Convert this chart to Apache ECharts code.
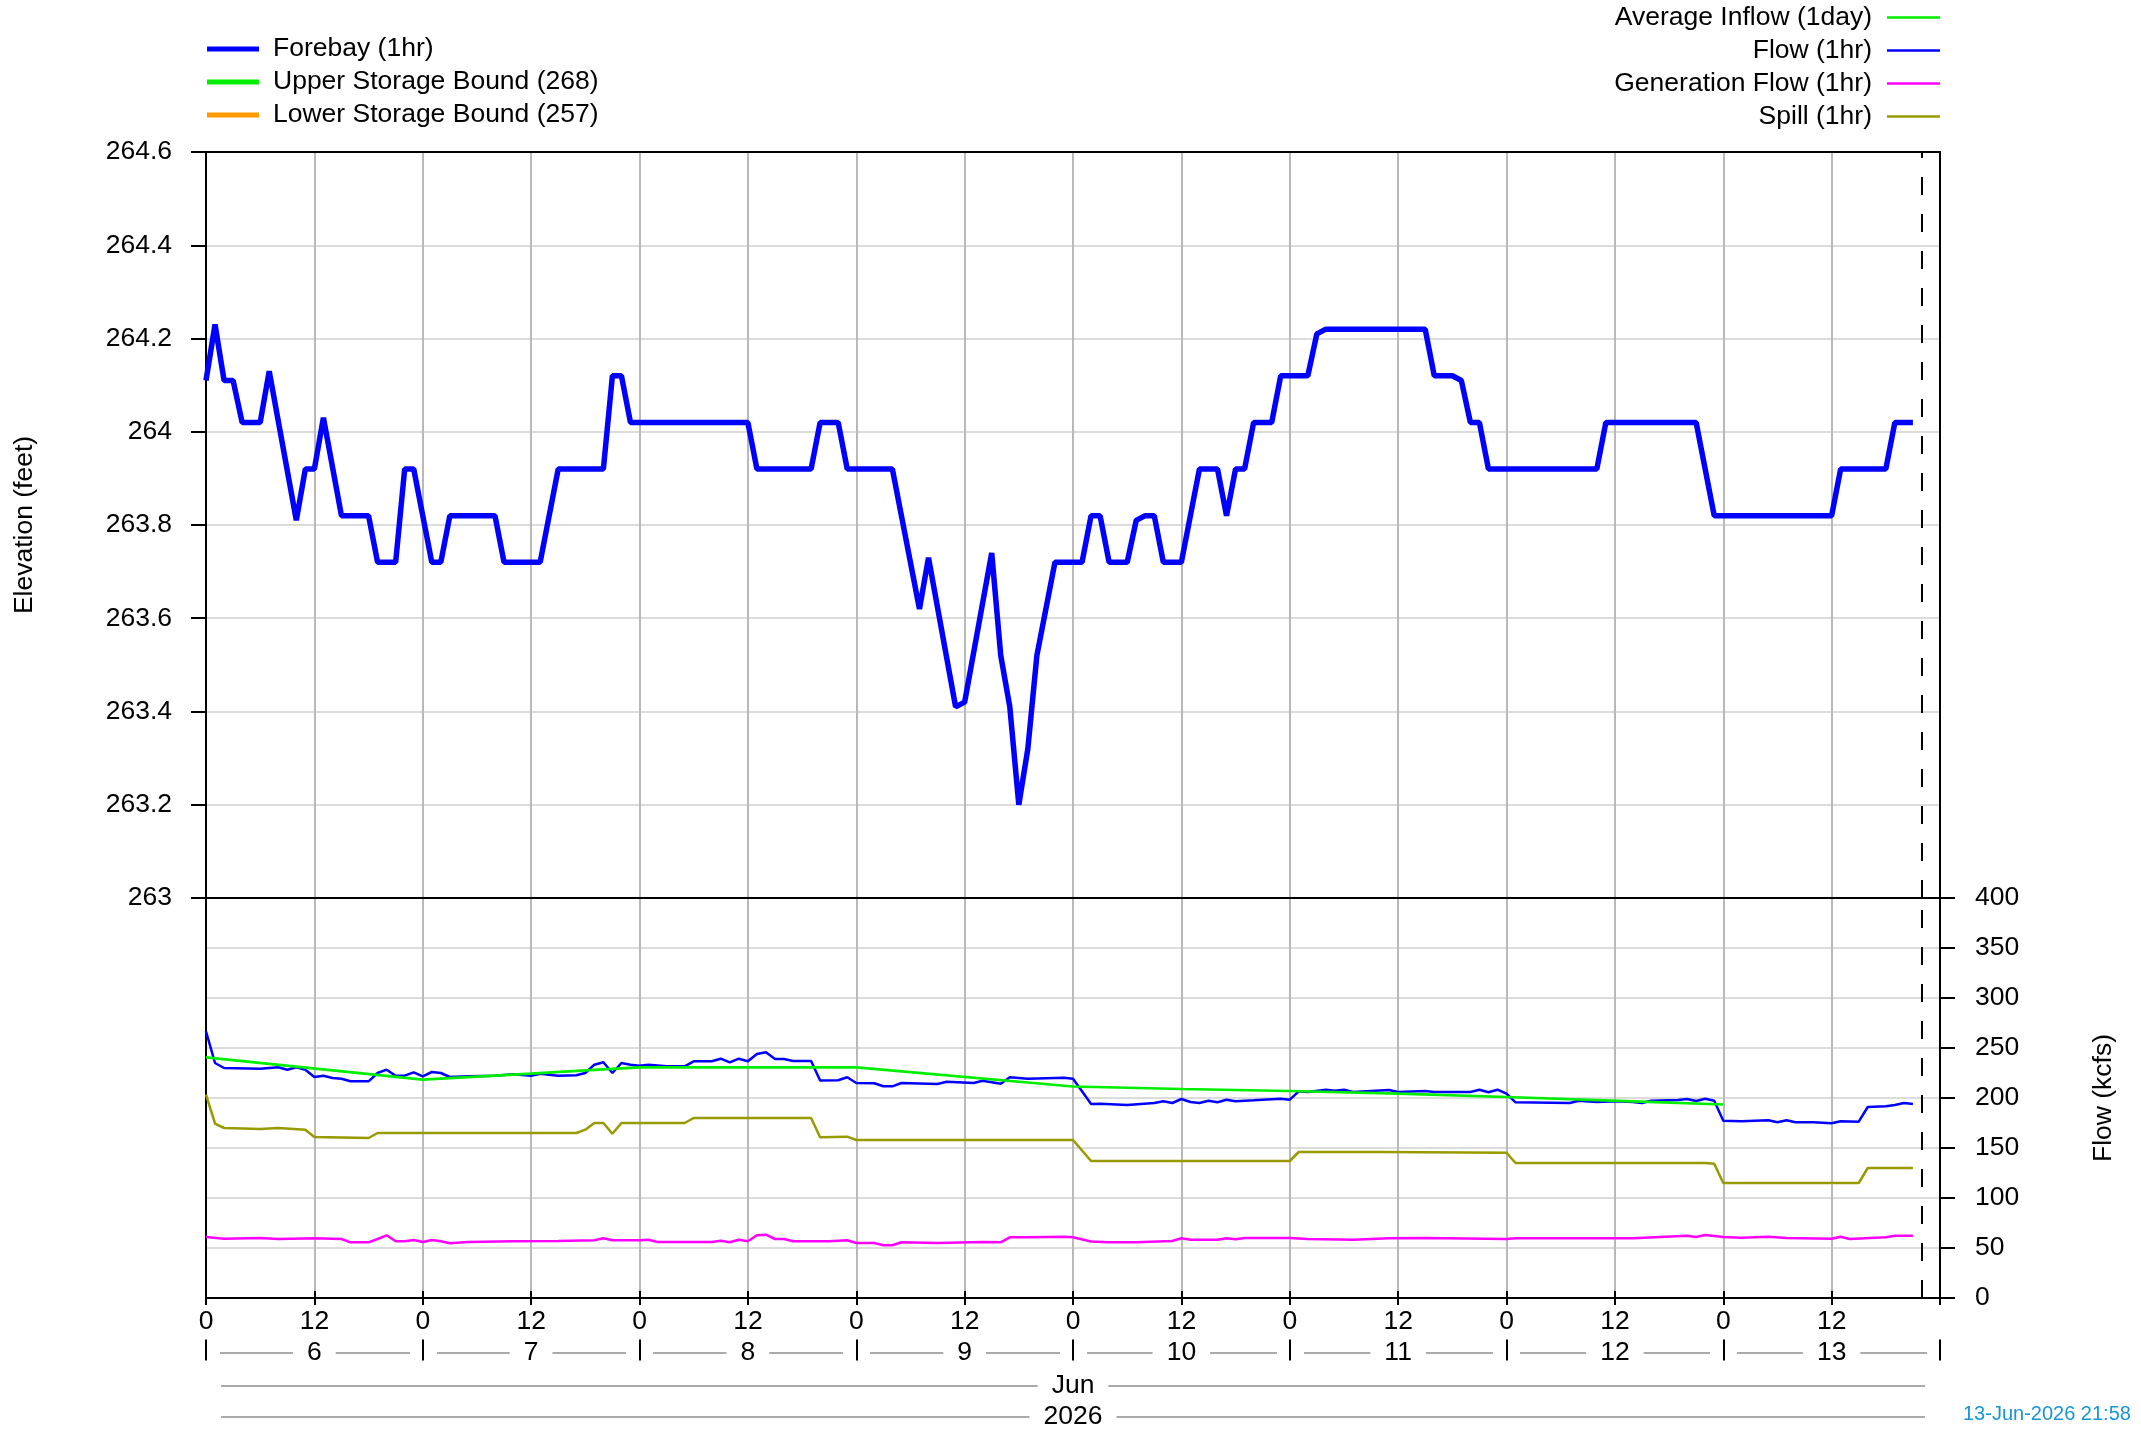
<!DOCTYPE html>
<html>
<head>
<meta charset="utf-8">
<title>Forebay and Flow</title>
<script src="https://cdn.jsdelivr.net/npm/echarts@6/dist/echarts.min.js"></script>
<style>
  html, body { margin: 0; padding: 0; background: #fff; }
  #chart { width: 2141px; height: 1432px; }
</style>
</head>
<body>
<div id="chart"></div>
<script>
// x values are hours since 6-Jun-2026 00:00
const nowHour = 189.97 // 13-Jun-2026 21:58

// forebay elevation (feet)
const forebayHours = [0, 1, 2, 3, 4, 6, 7, 10, 11, 12, 13, 15, 18, 19, 21, 22, 23, 25, 26, 27, 32, 33, 37, 39, 44, 45, 46, 47, 60, 61, 67, 68, 70, 71, 76, 79, 80, 83, 84, 87, 88, 89, 90, 91, 92, 94, 97, 98, 99, 100, 102, 103, 104, 105, 106, 108, 110, 112, 113, 114, 115, 116, 118, 119, 122, 123, 124, 135, 136, 138, 139, 140, 141, 142, 154, 155, 165, 167, 180, 181, 186, 187, 189]
const forebayFeet = [264.11, 264.23, 264.11, 264.11, 264.02, 264.02, 264.13, 263.81, 263.92, 263.92, 264.03, 263.82, 263.82, 263.72, 263.72, 263.92, 263.92, 263.72, 263.72, 263.82, 263.82, 263.72, 263.72, 263.92, 263.92, 264.12, 264.12, 264.02, 264.02, 263.92, 263.92, 264.02, 264.02, 263.92, 263.92, 263.62, 263.73, 263.41, 263.42, 263.74, 263.52, 263.41, 263.2, 263.32, 263.52, 263.72, 263.72, 263.82, 263.82, 263.72, 263.72, 263.81, 263.82, 263.82, 263.72, 263.72, 263.92, 263.92, 263.82, 263.92, 263.92, 264.02, 264.02, 264.12, 264.12, 264.21, 264.22, 264.22, 264.12, 264.12, 264.11, 264.02, 264.02, 263.92, 263.92, 264.02, 264.02, 263.82, 263.82, 263.92, 263.92, 264.02, 264.02]

const upperBound = 268
const lowerBound = 257

// flow (kcfs)
const flowHours = [0, 1, 2, 6, 8, 9, 10, 11, 12, 13, 14, 15, 16, 18, 19, 20, 21, 22, 23, 24, 25, 26, 27, 29, 32, 34, 36, 37, 39, 41, 42, 43, 44, 45, 46, 47, 48, 49, 51, 53, 54, 56, 57, 58, 59, 60, 61, 62, 63, 64, 65, 67, 68, 70, 71, 72, 74, 75, 76, 77, 81, 82, 85, 86, 88, 89, 91, 95, 96, 97, 98, 99, 102, 105, 106, 107, 108, 109, 110, 111, 112, 113, 114, 116, 119, 120, 121, 122, 124, 125, 126, 127, 131, 132, 135, 136, 140, 141, 142, 143, 144, 145, 151, 152, 154, 156, 158, 159, 160, 163, 164, 165, 166, 167, 168, 170, 173, 174, 175, 176, 178, 180, 181, 183, 184, 186, 187, 188, 189]
const flowKcfs = [266.7, 235, 230, 229.3, 230.7, 228.3, 230.7, 228.3, 221, 222.3, 220, 219.3, 216.7, 216.7, 225, 228.3, 222.3, 222.3, 225.7, 221.7, 226, 225, 221, 221.7, 222.3, 223.7, 222.3, 224.3, 222.3, 222.7, 225, 233.3, 235.7, 225, 235, 233.3, 232.3, 233.3, 231.7, 231.7, 236.7, 236.7, 239.3, 235.7, 239.3, 236.7, 244, 245.7, 239, 239, 237, 237, 217.5, 217.7, 220.7, 215, 214.7, 211.7, 211.7, 215, 214, 216.3, 215, 217.3, 214.3, 220.7, 219.3, 220.3, 219.3, 206.7, 194, 194.3, 193, 195, 196.7, 195, 199, 196, 195, 197.3, 195.7, 198.3, 196.7, 197.7, 199.3, 198.3, 206.7, 206, 208.3, 207.3, 208.3, 206, 208, 206, 207, 206, 206, 208.3, 205.7, 208.3, 204.3, 195.7, 195, 197.3, 196, 196.7, 196, 195, 197.3, 198, 199, 197, 199.3, 197.3, 177.3, 176.7, 177.7, 175.7, 177.7, 175.7, 175.7, 174.7, 176.7, 176.3, 191, 191.7, 193, 195, 194]

// average inflow, 1 day (kcfs)
const inflowHours = [0, 24, 36, 42, 48, 72, 96, 108, 120, 132, 144, 158, 168]
const inflowKcfs = [240.7, 218.3, 224.3, 227.7, 230.7, 230.7, 211.5, 209, 207, 204.3, 201, 196.7, 193.5]

// generation flow (kcfs)
const genHours = [0, 2, 6, 8, 12, 15, 16, 18, 19, 20, 21, 22, 23, 24, 25, 26, 27, 29, 34, 39, 43, 44, 45, 48, 49, 50, 56, 57, 58, 59, 60, 61, 62, 63, 64, 65, 69, 71, 72, 74, 75, 76, 77, 81, 86, 88, 89, 91, 95, 96, 98, 100, 103, 107, 108, 109, 112, 113, 114, 115, 120, 122, 127, 131, 135, 144, 145, 158, 161, 164, 165, 166, 168, 170, 173, 175, 180, 181, 182, 186, 187, 189]
const genKcfs = [61, 59.3, 60, 59, 59.7, 59, 55.7, 55.7, 59, 62.7, 56.7, 56.7, 58, 56, 58, 56.7, 54.7, 56, 56.7, 57, 57.7, 59.7, 57.7, 57.7, 58.3, 56, 56, 57.3, 55.7, 58.3, 56.7, 62.7, 63.3, 59, 59, 56.7, 56.7, 57.7, 55, 55, 52.7, 52.7, 55.7, 55, 56, 55.7, 60.7, 60.7, 61.3, 60.7, 56.5, 55.7, 55.7, 57, 59.7, 58.3, 58.3, 59.7, 58.7, 60, 60, 59, 58.3, 59.7, 60, 59, 59.7, 59.7, 61, 62.3, 61, 63, 61, 60.3, 61.3, 60, 59.3, 61.3, 59, 60.7, 62.3, 62.3]

// spill (kcfs)
const spillHours = [0, 1, 2, 6, 8, 11, 12, 18, 19, 41, 42, 43, 44, 45, 46, 53, 54, 67, 68, 71, 72, 96, 98, 120, 121, 130, 144, 145, 166, 167, 168, 183, 184, 189]
const spillKcfs = [203.3, 174.3, 170, 169, 170, 168.3, 161, 160, 165, 165, 168.3, 175, 175, 164.3, 175, 175, 180, 180, 160.7, 161.3, 158, 158, 137, 137, 146, 146, 145.3, 135, 135, 134.3, 115, 115, 130, 130]

// axis text
const hourTicks = [0, 12, 24, 36, 48, 60, 72, 84, 96, 108, 120, 132, 144, 156, 168, 180]
const dayLabels = ['6', '7', '8', '9', '10', '11', '12', '13']
const dayCentres = [12, 36, 60, 84, 108, 132, 156, 180]
const dayBounds = [0, 24, 48, 72, 96, 120, 144, 168, 192]
const monthLabel = 'Jun'
const yearLabel = '2026'
const stampText = '13-Jun-2026 21:58'

const pairs = (xs, ys) => xs.map((x, i) => [x, ys[i]])

const FONT = 'Liberation Sans, Arial, sans-serif'
const FS = 26.5
const vGrid = { show: true, showMinLine: false, showMaxLine: false, lineStyle: { color: '#b9b9b9', width: 2 } }
const hGrid = { show: true, showMinLine: false, showMaxLine: false, lineStyle: { color: '#dcdcdc', width: 2 } }
const blackLine = { show: true, onZero: false, lineStyle: { color: '#000', width: 2 } }
const noLine = { show: false, onZero: false }
const none = { show: false }

const chart = echarts.init(document.getElementById('chart'))

// 底部的日期行，灰线被白底文字断开
const rowAxis = (offset, values, fmt) => ({
  type: 'value', gridIndex: 1, position: 'bottom', offset: offset,
  min: 0, max: 192, z: 0,
  axisLine: { show: true, onZero: false, lineStyle: { color: '#aaaaaa', width: 2 } },
  axisTick: none, splitLine: none,
  axisLabel: {
    customValues: values, formatter: fmt, margin: 0, verticalAlign: 'middle',
    backgroundColor: '#fff', padding: [2, 14], color: '#000', fontSize: FS, fontFamily: FONT
  }
})

// 白色短竖线，在灰线上留出空隙
const gapAxis = (offset, values, width) => ({
  type: 'value', gridIndex: 1, position: 'bottom', offset: offset,
  min: 0, max: 192, z: 1,
  axisLine: noLine, axisLabel: none, splitLine: none,
  axisTick: { show: true, customValues: values, length: 9, lineStyle: { color: '#fff', width: width } }
})

const option = {
  animation: false,
  textStyle: { fontFamily: FONT },
  title: {
    text: stampText, left: 1963, top: 1404, padding: 0,
    textStyle: { color: '#1896d2', fontSize: 20, fontWeight: 'normal', fontFamily: FONT }
  },
  legend: [
    {
      data: ['Forebay (1hr)', 'Upper Storage Bound (268)', 'Lower Storage Bound (257)'],
      orient: 'vertical', left: 207, top: 35.5, padding: 0, icon: 'rect',
      itemWidth: 52, itemHeight: 5, itemGap: 6, selectedMode: false,
      textStyle: { fontSize: FS, lineHeight: 26, color: '#000', padding: [0, 0, 0, 9] }
    },
    {
      data: ['Average Inflow (1day)', 'Flow (1hr)', 'Generation Flow (1hr)', 'Spill (1hr)'],
      orient: 'vertical', right: 201, top: 4, padding: 0, align: 'right', icon: 'rect',
      itemWidth: 53, itemHeight: 2.5, itemGap: 6, selectedMode: false,
      textStyle: { fontSize: FS, lineHeight: 26, color: '#000', padding: [0, 10, 0, 0] }
    }
  ],
  grid: [
    { left: 206, right: 201, top: 152, height: 746 },
    { left: 206, right: 201, top: 898, height: 400 }
  ],
  xAxis: [
    { type: 'value', gridIndex: 0, position: 'bottom', min: 0, max: 192, interval: 12,
      axisLine: blackLine, axisTick: none, axisLabel: none, splitLine: vGrid },
    { type: 'value', gridIndex: 0, position: 'top', min: 0, max: 192,
      axisLine: blackLine, axisTick: none, axisLabel: none, splitLine: none },
    { type: 'value', gridIndex: 1, position: 'bottom', min: 0, max: 192, interval: 12,
      axisLine: blackLine,
      axisTick: { show: true, length: 7, lineStyle: { color: '#000', width: 2 } },
      axisLabel: { customValues: hourTicks, formatter: v => (v % 24 === 0 ? '0' : '12'),
        margin: 10, color: '#000', fontSize: FS, fontFamily: FONT },
      splitLine: vGrid },
    rowAxis(54.5, dayCentres, v => dayLabels[dayCentres.indexOf(v)]),
    gapAxis(50, dayBounds, 27),
    { type: 'value', gridIndex: 1, position: 'bottom', offset: 41.5, min: 0, max: 192, z: 2,
      axisLine: noLine, axisLabel: none, splitLine: none,
      axisTick: { show: true, customValues: dayBounds, length: 21, lineStyle: { color: '#000', width: 2 } } },
    rowAxis(87.5, [96], () => monthLabel),
    gapAxis(83, [0, 192], 30),
    rowAxis(118.5, [96], () => yearLabel),
    gapAxis(114, [0, 192], 30),
    // inner half of the hour ticks
    { type: 'value', gridIndex: 1, position: 'bottom', min: 0, max: 192, interval: 12,
      axisLine: noLine, axisLabel: none, splitLine: none,
      axisTick: { show: true, inside: true, length: 7, lineStyle: { color: '#000', width: 2 } } }
  ],
  yAxis: [
    { type: 'value', gridIndex: 0, position: 'left', min: 263, max: 264.6, interval: 0.2,
      name: 'Elevation (feet)', nameLocation: 'middle', nameRotate: 90, nameGap: 168,
      nameTextStyle: { color: '#000', fontSize: FS, fontFamily: FONT },
      axisLine: blackLine,
      axisTick: { show: true, length: 15, lineStyle: { color: '#000', width: 2 } },
      axisLabel: { margin: 34, color: '#000', fontSize: FS, fontFamily: FONT },
      splitLine: hGrid },
    { type: 'value', gridIndex: 0, position: 'right', min: 0, max: 1,
      axisLine: blackLine, axisTick: none, axisLabel: none, splitLine: none },
    { type: 'value', gridIndex: 1, position: 'right', min: 0, max: 400, interval: 50,
      name: 'Flow (kcfs)', nameLocation: 'middle', nameRotate: 90, nameGap: 150,
      nameTextStyle: { color: '#000', fontSize: FS, fontFamily: FONT },
      axisLine: blackLine,
      axisTick: { show: true, length: 15, lineStyle: { color: '#000', width: 2 } },
      axisLabel: { margin: 35, color: '#000', fontSize: FS, fontFamily: FONT },
      splitLine: hGrid },
    { type: 'value', gridIndex: 1, position: 'left', min: 0, max: 1,
      axisLine: blackLine, axisTick: none, axisLabel: none, splitLine: none }
  ],
  series: [
    {
      name: 'Forebay (1hr)', type: 'line', xAxisIndex: 0, yAxisIndex: 0,
      data: pairs(forebayHours, forebayFeet), showSymbol: false, color: '#0000ff',
      lineStyle: { width: 5.5, color: '#0000ff' }, z: 5,
      markLine: { silent: true, symbol: 'none', label: { show: false },
        lineStyle: { color: '#000', width: 2, type: [18, 19] }, data: [{ xAxis: nowHour }] }
    },
    {
      name: 'Upper Storage Bound (268)', type: 'line', xAxisIndex: 0, yAxisIndex: 0,
      data: [[0, upperBound], [192, upperBound]], showSymbol: false, color: '#00ee00',
      lineStyle: { width: 5 }
    },
    {
      name: 'Lower Storage Bound (257)', type: 'line', xAxisIndex: 0, yAxisIndex: 0,
      data: [[0, lowerBound], [192, lowerBound]], showSymbol: false, color: '#ff9900',
      lineStyle: { width: 5 }
    },
    {
      name: 'Flow (1hr)', type: 'line', xAxisIndex: 2, yAxisIndex: 2,
      data: pairs(flowHours, flowKcfs), showSymbol: false, color: '#0000ff',
      lineStyle: { width: 2.5 },
      markLine: { silent: true, symbol: 'none', label: { show: false },
        lineStyle: { color: '#000', width: 2, type: [18, 19] }, data: [{ xAxis: nowHour }] }
    },
    {
      name: 'Average Inflow (1day)', type: 'line', xAxisIndex: 2, yAxisIndex: 2,
      data: pairs(inflowHours, inflowKcfs), showSymbol: false, color: '#00ee00',
      lineStyle: { width: 2.7 }
    },
    {
      name: 'Generation Flow (1hr)', type: 'line', xAxisIndex: 2, yAxisIndex: 2,
      data: pairs(genHours, genKcfs), showSymbol: false, color: '#ff00ff',
      lineStyle: { width: 2.5 }
    },
    {
      name: 'Spill (1hr)', type: 'line', xAxisIndex: 2, yAxisIndex: 2,
      data: pairs(spillHours, spillKcfs), showSymbol: false, color: '#999900',
      lineStyle: { width: 2.5 }
    }
  ]
}

chart.setOption(option)
</script>
</body>
</html>
